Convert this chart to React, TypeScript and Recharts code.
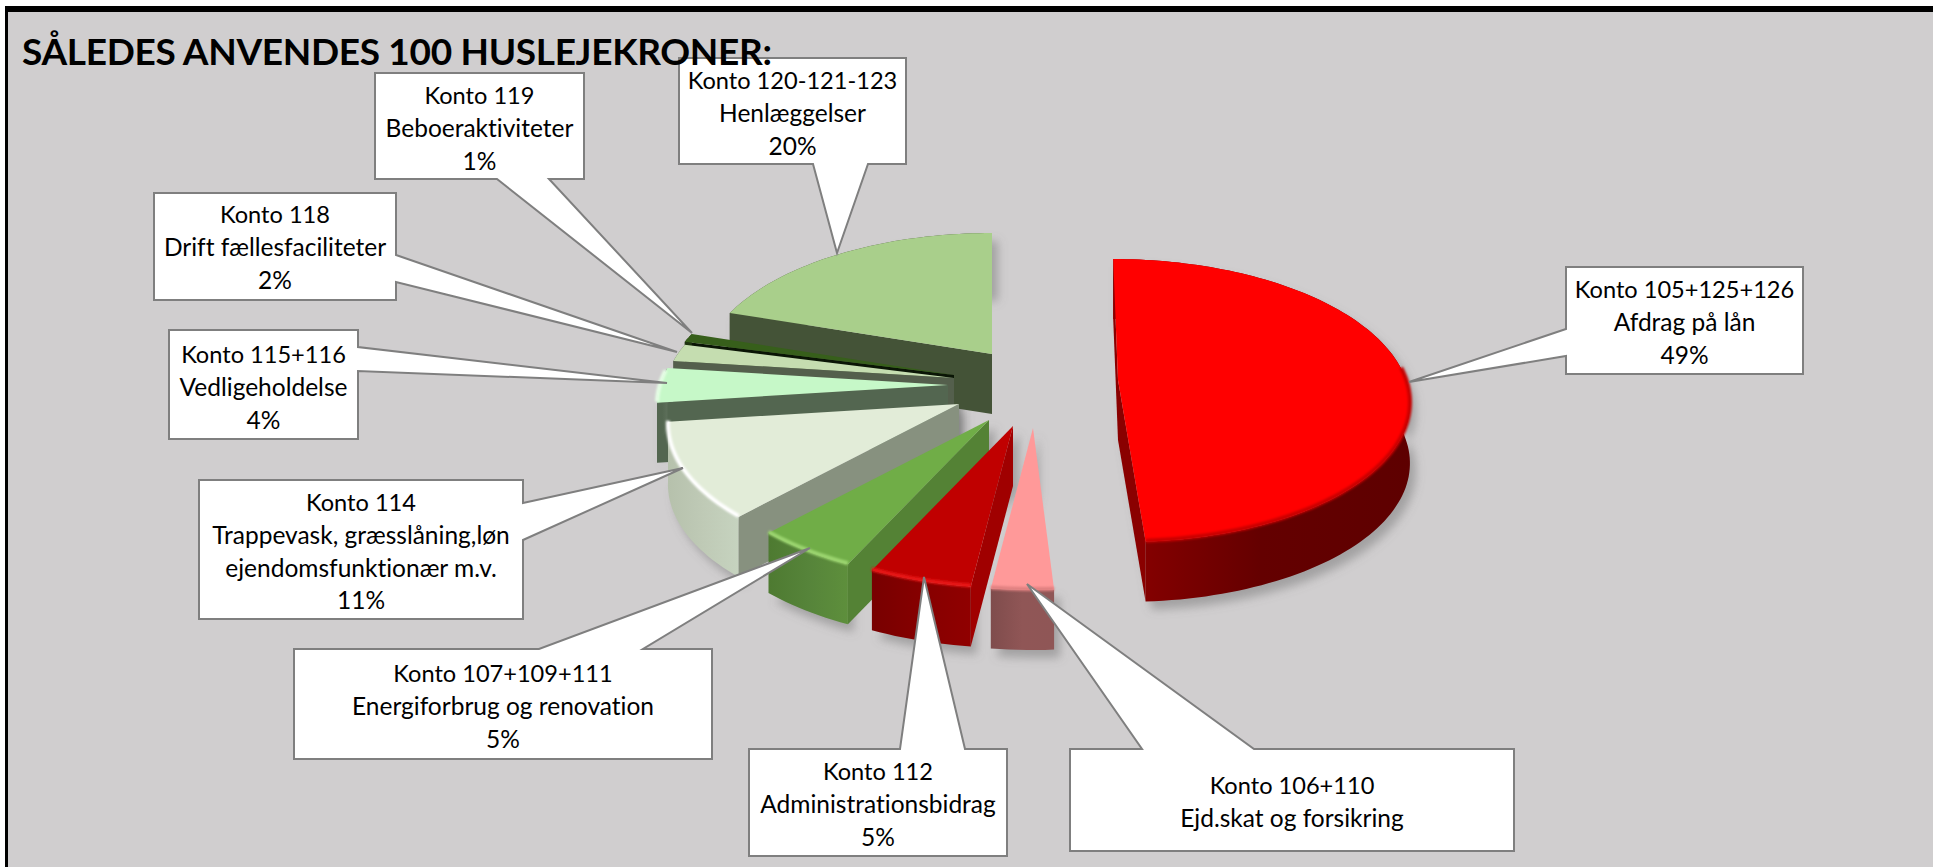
import { Pie, PieChart } from 'recharts'

const accounts = ['Konto 105+125+126', 'Konto 106+110', 'Konto 112', 'Konto 107+109+111', 'Konto 114', 'Konto 115+116', 'Konto 118', 'Konto 119', 'Konto 120-121-123']
const descriptions = [
  ['Afdrag på lån'],
  ['Ejd.skat og forsikring'],
  ['Administrationsbidrag'],
  ['Energiforbrug og renovation'],
  ['Trappevask, græsslåning,løn', 'ejendomsfunktionær m.v.'],
  ['Vedligeholdelse'],
  ['Drift fællesfaciliteter'],
  ['Beboeraktiviteter'],
  ['Henlæggelser'],
]
const shares = [49, 3, 5, 5, 11, 4, 2, 1, 20]
// the label of konto 106 is cut off in the original, it has no percentage
const percentLabels = ['49%', '', '5%', '5%', '11%', '4%', '2%', '1%', '20%']

// painted back to front, so the table runs counter-clockwise from 12 o'clock
const pieData = accounts
  .map((name, i) => ({ name, value: shares[i], lines: descriptions[i], percent: percentLabels[i], slot: i }))
  .reverse()

const WIDTH = 1934
const HEIGHT = 867
const PIE_X = 1000
const PIE_Y = 385
const RADIUS = 288
const TILT = 0.481
const PERSPECTIVE = 0.145
const DEPTH = 60

// explosion of each slice from the pie centre, by slot (dx, dy, lean)
const explode = [
  [118, -5, 0.04],
  [33, 43, 0],
  [13, 41, 0],
  [-11, 35, 0],
  [-41, 19, 0],
  [-52, 0, 0],
  [-46, -7, 0],
  [-46, -10, 0],
  [-8, -31, 0],
]

const looks = [
  { top: '#ff0000', side: '#8a0000', wall: ['#8c0000', '#640000', '#5e0000'], rim: '#c80000' },
  { top: '#ff9999', side: '#8f5555', wall: ['#8f5656', '#905656', '#7f4c4c'], rim: '#e08080' },
  { top: '#c00000', side: '#a00000', wall: ['#900000', '#860000', '#780000'], rim: '#e81818' },
  { top: '#70ad47', side: '#548235', wall: ['#5e8f3c', '#56843a', '#4e7a31'], rim: '#9cd670' },
  { top: '#e2ecd8', side: '#87917f', wall: ['#c6d3bf', '#bfcab6', '#b6c1ac'], rim: '#ffffff' },
  { top: '#c6f8c8', side: '#536650', wall: ['#5d6f5a', '#536650', '#536650'], rim: '#e6ffe6' },
  { top: '#c5ddb0', side: '#545f4c', wall: ['#545f4c', '#545f4c', '#545f4c'], rim: '#c5ddb0' },
  { top: '#375f1b', side: '#0a1505', wall: ['#1e3310', '#1e3310', '#1e3310'], rim: '#375f1b' },
  { top: '#a9cf8b', side: '#445337', wall: ['#445337', '#445337', '#445337'], rim: '#a9cf8b' },
]

// callout boxes: box, side and span of the pointer base, pointer tip
const callouts = [
  { box: [1566, 267, 237, 107], side: 'left', base: [329, 356], tip: [1409, 382], textY: 289 },
  { box: [1070, 749, 444, 102], side: 'top', base: [1142, 1254], tip: [1027, 584], textY: 785 },
  { box: [749, 749, 258, 107], side: 'top', base: [900, 965], tip: [924, 577], textY: 771 },
  { box: [294, 649, 418, 110], side: 'top', base: [539, 643], tip: [810, 548], textY: 673 },
  { box: [199, 480, 324, 139], side: 'right', base: [503, 540], tip: [683, 468], textY: 502 },
  { box: [169, 330, 189, 109], side: 'right', base: [347, 371], tip: [667, 383], textY: 354 },
  { box: [154, 193, 242, 107], side: 'right', base: [255, 282], tip: [677, 352], textY: 214 },
  { box: [375, 73, 209, 106], side: 'bottom', base: [497, 549], tip: [692, 333], textY: 95 },
  { box: [679, 58, 227, 106], side: 'bottom', base: [813, 868], tip: [837, 253], textY: 80 },
]

const LABEL_FONT = 'Lato, "Noto Sans", sans-serif'

function project(cx: number, cy: number, lean: number, angle: number, radius: number) {
  const u = Math.cos((angle * Math.PI) / 180) * radius
  const v = -Math.sin((angle * Math.PI) / 180) * radius
  const s = 1 / (1 - PERSPECTIVE * v)
  const y = RADIUS * TILT * v * s
  return [cx + RADIUS * u * s + lean * y, cy + y]
}

function toPath(points: number[][]) {
  return points.map((p, i) => `${i ? 'L' : 'M'}${p[0].toFixed(1)} ${p[1].toFixed(1)}`).join(' ') + ' Z'
}

function sliceGeometry(props: any) {
  const off = explode[props.payload.slot]
  const cx = props.cx + off[0]
  const cy = props.cy + off[1]
  const arc: number[][] = []
  const steps = Math.max(6, Math.round(Math.abs(props.endAngle - props.startAngle) / 1.5))
  for (let i = 0; i <= steps; i++) {
    arc.push(project(cx, cy, off[2], props.startAngle + ((props.endAngle - props.startAngle) * i) / steps, 1))
  }
  return { apex: [cx, cy], arc }
}

const drop = (p: number[]) => [p[0], p[1] + DEPTH]

function ShadowShape(props: any) {
  const { apex, arc } = sliceGeometry(props)
  const outline = [apex, drop(apex), ...arc.map(drop), ...arc.slice().reverse()]
  return (
    <path d={toPath(outline)} fill="#6d6b6c" fillOpacity={0.45} filter="url(#sliceShadow)" transform="translate(6 8)" />
  )
}

function SliceShape(props: any) {
  const { apex, arc } = sliceGeometry(props)
  const look = looks[props.payload.slot]
  const first = arc[0]
  const last = arc[arc.length - 1]
  // the polygon apex -> first -> last turns counter-clockwise on screen,
  // so an edge running rightwards has its wall facing the viewer
  const faces = [
    [apex, first],
    [last, apex],
  ].filter(([a, b]) => b[0] - a[0] > 0)
  const frontArc = arc.filter((p) => p[1] > apex[1] - 14)
  return (
    <g>
      {faces.map(([a, b], i) => (
        <path key={i} d={toPath([a, b, drop(b), drop(a)])} fill={look.side} />
      ))}
      <path d={toPath([...arc, ...arc.map(drop).reverse()])} fill={`url(#wall${props.payload.slot})`} />
      <path d={toPath([apex, ...arc])} fill={look.top} />
      {frontArc.length > 1 && (
        <polyline
          points={frontArc.map((p) => `${p[0]},${p[1] - 1}`).join(' ')}
          fill="none"
          stroke={look.rim}
          strokeWidth={4}
          filter="url(#rimBlur)"
        />
      )}
    </g>
  )
}

function Callout(props: any) {
  const slot = props.payload.slot
  const c = callouts[slot]
  const [x, y, w, h] = c.box
  const r = x + w
  const b = y + h
  let pts: number[][] = []
  if (c.side === 'top') {
    pts = [[x, y], [c.base[0], y], c.tip, [c.base[1], y], [r, y], [r, b], [x, b]]
  } else if (c.side === 'bottom') {
    pts = [[x, y], [r, y], [r, b], [c.base[1], b], c.tip, [c.base[0], b], [x, b]]
  } else if (c.side === 'right') {
    pts = [[x, y], [r, y], [r, c.base[0]], c.tip, [r, c.base[1]], [r, b], [x, b]]
  } else {
    pts = [[x, y], [r, y], [r, b], [x, b], [x, c.base[1]], c.tip, [x, c.base[0]]]
  }
  const lines = [props.payload.name, ...props.payload.lines, props.payload.percent].filter(Boolean)
  return (
    <g>
      <path d={toPath(pts)} fill="#ffffff" stroke="#7f7f7f" strokeWidth={2} strokeLinejoin="miter" />
      {lines.map((line: string, i: number) => (
        <text
          key={line}
          x={x + w / 2}
          y={c.textY + i * 32.6}
          textAnchor="middle"
          dominantBaseline="central"
          fontFamily={LABEL_FONT}
          fontSize={i === 0 ? 23.6 : 24.5}
          fill="#000000"
          style={{ fontVariantLigatures: 'none' }}
        >
          {line}
        </text>
      ))}
    </g>
  )
}

export default function App() {
  return (
    <div style={{ position: 'absolute', left: 0, top: 0, width: WIDTH, height: HEIGHT, background: '#ffffff', overflow: 'hidden' }}>
      <div style={{ position: 'absolute', left: 5, top: 6, right: 1, bottom: 0, background: '#d0cecf', borderLeft: '3px solid #000000', borderTop: '6px solid #000000' }} />
      <svg width={0} height={0} style={{ position: 'absolute' }}>
        <defs>
          <filter id="sliceShadow" x="-30%" y="-30%" width="160%" height="160%">
            <feGaussianBlur stdDeviation={5} />
          </filter>
          <filter id="rimBlur" filterUnits="userSpaceOnUse" x="0" y="0" width={WIDTH} height={HEIGHT}>
            <feGaussianBlur stdDeviation={1.2} />
          </filter>
          {looks.map((look, i) => (
            <linearGradient key={i} id={`wall${i}`} x1="0" y1="0" x2="1" y2="0">
              <stop offset="0%" stopColor={i === 0 ? look.wall[0] : look.wall[2]} />
              <stop offset="50%" stopColor={look.wall[1]} />
              <stop offset="100%" stopColor={i === 0 ? look.wall[2] : look.wall[0]} />
            </linearGradient>
          ))}
        </defs>
      </svg>
      <div style={{ position: 'absolute', left: 0, top: 0 }}>
        <PieChart width={WIDTH} height={HEIGHT} margin={{ top: 0, right: 0, bottom: 0, left: 0 }}>
          <Pie
            data={pieData}
            dataKey="value"
            nameKey="name"
            cx={PIE_X}
            cy={PIE_Y}
            outerRadius={RADIUS}
            startAngle={90}
            endAngle={450}
            stroke="none"
            shape={ShadowShape}
            isAnimationActive={false}
            legendType="none"
          />
          <Pie
            data={pieData}
            dataKey="value"
            nameKey="name"
            cx={PIE_X}
            cy={PIE_Y}
            outerRadius={RADIUS}
            startAngle={90}
            endAngle={450}
            stroke="none"
            shape={SliceShape}
            label={Callout}
            labelLine={false}
            isAnimationActive={false}
            legendType="none"
          />
        </PieChart>
      </div>
      <div
        style={{
          position: 'absolute',
          left: 22,
          top: 28,
          fontFamily: LABEL_FONT,
          fontWeight: 700,
          fontSize: 37,
          letterSpacing: -0.32,
          lineHeight: '46px',
          color: '#000000',
          whiteSpace: 'nowrap',
          pointerEvents: 'none',
          fontVariantLigatures: 'none',
        }}
      >
        SÅLEDES ANVENDES 100 HUSLEJEKRONER:
      </div>
    </div>
  )
}
